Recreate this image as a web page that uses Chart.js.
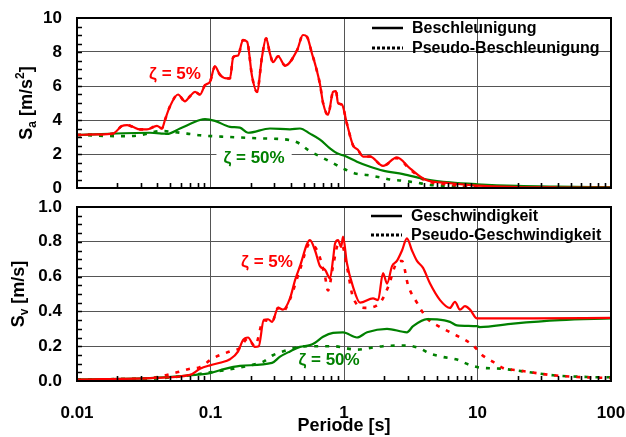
<!DOCTYPE html>
<html>
<head>
<meta charset="utf-8">
<script src="https://cdn.jsdelivr.net/npm/chart.js@4.4.1/dist/chart.umd.min.js"></script>
<style>
  html, body { margin: 0; padding: 0; background: #fff; }
  #wrap { position: relative; width: 626px; height: 437px; }
  canvas { position: absolute; left: 0; }
  #topChart { top: 0; }
  #bottomChart { top: 195px; }
</style>
</head>
<body>
<div id="wrap">
  <canvas id="topChart" width="626" height="195"></canvas>
  <canvas id="bottomChart" width="626" height="242"></canvas>
</div>
<script>
// ---------------------------------------------------------------
// Daten
// ---------------------------------------------------------------
const decadeTicks = [0.01, 0.1, 1, 10, 100];
const decadeLabels = ['0.01', '0.1', '1', '10', '100'];

// Sa, zeta = 5 % (Beschleunigung und Pseudo-Beschleunigung)
const saPeriods5 = [
  0.01, 0.0141, 0.0186, 0.0217, 0.0237, 0.0262, 0.0296, 0.0334, 0.0397, 0.0433,
  0.0456, 0.0497, 0.0571, 0.0644, 0.0702, 0.0766, 0.0834, 0.091, 0.0991, 0.108,
  0.118, 0.133, 0.14, 0.148, 0.161, 0.175, 0.188, 0.205, 0.223, 0.243,
  0.261, 0.279, 0.294, 0.321, 0.362, 0.445, 0.493, 0.528, 0.576, 0.607,
  0.661, 0.697, 0.759, 0.828, 0.871, 0.902, 0.966, 1.05, 1.17, 1.27,
  1.39, 1.57, 1.96, 2.49, 3.12, 4.04, 6.22, 9.91, 19.8, 39.4,
  100
];
const sa5 = [
  3.12, 3.15, 3.2, 3.65, 3.7, 3.6, 3.45, 3.45, 3.65, 3.5,
  4.0, 4.8, 5.5, 5.1, 5.4, 5.65, 5.5, 6.05, 6.25, 7.15,
  6.65, 6.45, 6.45, 7.7, 7.8, 8.7, 8.6, 6.55, 5.65, 7.7,
  8.8, 7.9, 7.4, 7.75, 7.2, 8.1, 9.0, 8.9, 7.9, 7.3,
  6.1, 5.0, 4.3, 5.65, 5.7, 5.0, 4.9, 3.8, 2.5, 2.25,
  1.85, 1.85, 1.3, 1.8, 1.15, 0.5, 0.28, 0.14, 0.06, 0.03,
  0.02
];
const saPseudo5 = [
  3.12, 3.15, 3.2, 3.65, 3.7, 3.6, 3.45, 3.45, 3.65, 3.5,
  4.0, 4.8, 5.5, 5.1, 5.4, 5.65, 5.5, 6.05, 6.25, 7.15,
  6.65, 6.45, 6.45, 7.7, 7.8, 8.7, 8.6, 6.55, 5.65, 7.7,
  8.8, 7.9, 7.4, 7.75, 7.2, 8.1, 9.0, 8.9, 7.9, 7.3,
  6.1, 5.0, 4.3, 5.65, 5.7, 5.0, 4.9, 3.8, 2.5, 2.25,
  1.85, 1.85, 1.3, 1.75, 1.1, 0.45, 0.2, 0.08, 0.02, 0.005,
  0.001
];

// Sa, zeta = 50 %
const saPeriods50 = [
  0.01, 0.0352, 0.0441, 0.0472, 0.0591, 0.0834, 0.091, 0.108, 0.14, 0.166,
  0.191, 0.279, 0.394, 0.468, 0.556, 0.661, 0.785, 0.887, 1.02, 1.25,
  1.57, 1.96, 2.77, 4.19, 6.22, 9.91, 19.8, 39.4, 100
];
const sa50 = [
  3.12, 3.25, 3.2, 3.18, 3.5, 4.0, 4.05, 3.95, 3.6, 3.55,
  3.25, 3.5, 3.45, 3.5, 3.2, 2.85, 2.33, 2.04, 1.88, 1.55,
  1.25, 1.02, 0.82, 0.5, 0.33, 0.22, 0.12, 0.08, 0.05
];
const saPseudoPeriods50 = [
  0.01, 0.021, 0.0296, 0.0419, 0.0667, 0.0834, 0.14, 0.235, 0.394, 0.468,
  0.537, 0.661, 0.813, 0.984, 1.21, 1.49, 1.86, 2.21, 2.77, 3.52,
  4.41, 6.22, 8.34, 100
];
const saPseudo50 = [
  3.12, 3.05, 3.1, 3.35, 3.2, 3.1, 3.0, 2.92, 2.82, 2.6,
  2.24, 1.85, 1.5, 1.15, 0.86, 0.76, 0.63, 0.5, 0.43, 0.31,
  0.18, 0.12, 0.04, 0.01
];

// Sv, zeta = 5 %
const svPeriods5 = [
  0.01, 0.0352, 0.0702, 0.0834, 0.0991, 0.118, 0.14, 0.161, 0.175, 0.191,
  0.215, 0.23, 0.25, 0.27, 0.289, 0.321, 0.349, 0.394, 0.43, 0.468,
  0.556, 0.607, 0.661, 0.721, 0.785, 0.828, 0.857, 0.902, 0.951, 0.984,
  1.05, 1.17, 1.32, 1.65, 1.8, 1.96, 2.1, 2.29, 2.49, 2.72,
  2.96, 3.23, 3.52, 3.91, 4.41, 5.24, 6.22, 6.78, 7.39, 8.06,
  8.79, 9.91, 26.1, 100
];
const sv5 = [
  0.008, 0.017, 0.035, 0.07, 0.09, 0.105, 0.125, 0.17, 0.235, 0.25,
  0.196, 0.2, 0.35, 0.355, 0.34, 0.42, 0.41, 0.475, 0.58, 0.66,
  0.81, 0.75, 0.66, 0.64, 0.59, 0.7, 0.79, 0.81, 0.77, 0.83,
  0.68, 0.54, 0.45, 0.475, 0.465, 0.62, 0.56, 0.66, 0.69, 0.75,
  0.82, 0.75, 0.69, 0.65, 0.56, 0.465, 0.42, 0.455, 0.41, 0.43,
  0.41, 0.36, 0.36, 0.363
];
const svPseudoPeriods5 = [
  0.01, 0.0352, 0.0561, 0.0702, 0.0834, 0.104, 0.14, 0.166, 0.191, 0.215,
  0.25, 0.289, 0.321, 0.349, 0.394, 0.468, 0.556, 0.638, 0.721, 0.759,
  0.828, 0.902, 0.966, 1.05, 1.17, 1.44, 1.86, 2.14, 2.49, 2.72,
  3.02, 3.52, 4.19, 5.24, 6.22, 9.25, 10.8, 13.1, 15.5, 19.8,
  36.8, 55.6, 100
];
const svPseudo5 = [
  0.008, 0.017, 0.05, 0.07, 0.08, 0.13, 0.17, 0.19, 0.245, 0.2,
  0.35, 0.34, 0.42, 0.4, 0.47, 0.64, 0.79, 0.74, 0.6, 0.52,
  0.66, 0.78, 0.78, 0.66, 0.48, 0.42, 0.45, 0.54, 0.68, 0.69,
  0.55, 0.45, 0.36, 0.31, 0.28, 0.205, 0.15, 0.11, 0.075, 0.062,
  0.033, 0.023, 0.017
];

// Sv, zeta = 50 %
const svPeriods50 = [
  0.01, 0.0352, 0.0702, 0.0991, 0.118, 0.166, 0.289, 0.332, 0.394, 0.468,
  0.556, 0.607, 0.697, 0.828, 0.984, 1.25, 1.49, 2.1, 2.96, 3.29,
  4.19, 4.98, 6.22, 7.02, 9.91, 10.4, 18.5, 41.5, 100
];
const sv50 = [
  0.01, 0.017, 0.033, 0.045, 0.062, 0.087, 0.104, 0.14, 0.17, 0.196,
  0.206, 0.22, 0.254, 0.277, 0.28, 0.25, 0.28, 0.3, 0.28, 0.315,
  0.356, 0.354, 0.34, 0.32, 0.315, 0.31, 0.33, 0.35, 0.36
];
const svPseudoPeriods50 = [
  0.01, 0.0352, 0.0702, 0.104, 0.148, 0.198, 0.247, 0.294, 0.374, 0.445,
  0.528, 0.828, 1.25, 1.57, 1.96, 2.96, 3.71, 4.41, 5.52, 7.02,
  8.49, 10.4, 14.8, 23.5, 36.8, 66.1, 100
];
const svPseudo50 = [
  0.01, 0.013, 0.033, 0.052, 0.07, 0.09, 0.11, 0.148, 0.177, 0.193,
  0.2, 0.2, 0.18, 0.19, 0.2, 0.204, 0.187, 0.158, 0.138, 0.123,
  0.096, 0.077, 0.071, 0.052, 0.033, 0.023, 0.021
];

// ---------------------------------------------------------------
// Stil
// ---------------------------------------------------------------
const RED = '#ff0000';
const GREEN = '#008000';
const FONT = '"Liberation Sans", Arial, Helvetica, sans-serif';

Chart.defaults.font.family = FONT;
Chart.defaults.color = '#000';

function line(periods, values, color, dotted) {
  return {
    data: periods.map((p, i) => ({ x: p, y: values[i] })),
    borderColor: color,
    borderWidth: dotted ? 2.6 : 2.2,
    borderDash: dotted ? [4, 7] : [],
    pointRadius: 0,
    fill: false,
    cubicInterpolationMode: 'monotone'
  };
}

// keine automatische Randzugabe der Achsen
function noPad(s) {
  s.paddingTop = 0;
  s.paddingBottom = 0;
  s.paddingLeft = 0;
  s.paddingRight = 0;
}

// Rahmen, Nebenstriche, Achsentitel, Legende, Beschriftungen
const decor = {
  id: 'decor',
  afterDatasetsDraw(chart, args, opts) {
    const { ctx, chartArea: a, scales: { x, y } } = chart;
    ctx.save();

    // Nebenstriche
    ctx.strokeStyle = '#000';
    ctx.lineWidth = 1.6;
    ctx.beginPath();
    decadeTicks.slice(0, -1).forEach(d => {
      for (let m = 2; m < 10; m++) {
        const px = Math.round(x.getPixelForValue(d * m)) + 0.5;
        ctx.moveTo(px, a.bottom);
        ctx.lineTo(px, a.bottom - 5);
      }
    });
    const n = Math.round((y.max - y.min) / opts.minorStep);
    for (let i = 1; i < n; i++) {
      const py = Math.round(y.getPixelForValue(y.min + i * opts.minorStep)) + 0.5;
      ctx.moveTo(a.left, py);
      ctx.lineTo(a.left + 5, py);
    }
    ctx.stroke();

    // Rahmen
    ctx.lineWidth = 2;
    ctx.strokeRect(a.left, a.top, a.right - a.left, a.bottom - a.top);

    // Beschriftungen zeta
    ctx.textAlign = 'center';
    ctx.textBaseline = 'middle';
    ctx.font = 'bold 17px ' + FONT;
    opts.notes.forEach(nt => {
      const px = x.getPixelForValue(nt.x);
      const py = y.getPixelForValue(nt.y);
      if (nt.bg) {
        const w = ctx.measureText(nt.text).width + 14;
        ctx.fillStyle = '#fff';
        ctx.fillRect(px - w / 2, py - 9, w, 18);
      }
      ctx.fillStyle = nt.color;
      ctx.fillText(nt.text, px, py + 1);
    });

    // Legende
    ctx.textAlign = 'left';
    ctx.font = 'bold 16px ' + FONT;
    opts.legend.forEach((item, i) => {
      const ly = opts.legendY + i * opts.legendGap;
      ctx.strokeStyle = '#000';
      ctx.lineWidth = item.dotted ? 3 : 2.5;
      ctx.setLineDash(item.dotted ? [3, 2] : []);
      ctx.beginPath();
      ctx.moveTo(opts.legendX, ly);
      ctx.lineTo(opts.legendX + 31, ly);
      ctx.stroke();
      ctx.setLineDash([]);
      ctx.fillStyle = '#000';
      ctx.fillText(item.text, opts.legendX + 40, ly + 1);
    });

    // y-Achsentitel mit Index
    const parts = opts.yTitle;
    const big = 'bold 18px ' + FONT, small = 'bold 12px ' + FONT;
    let total = 0;
    parts.forEach(p => { ctx.font = p.dy ? small : big; p.w = ctx.measureText(p.t).width; total += p.w; });
    ctx.translate(opts.yTitleX, (a.top + a.bottom) / 2);
    ctx.rotate(-Math.PI / 2);
    ctx.textBaseline = 'alphabetic';
    let cx = -total / 2;
    parts.forEach(p => {
      ctx.font = p.dy ? small : big;
      ctx.fillText(p.t, cx, 7 + (p.dy || 0));
      cx += p.w;
    });
    ctx.restore();
  }
};

function makeChart(id, datasets, cfg) {
  return new Chart(document.getElementById(id), {
    type: 'line',
    data: { datasets },
    plugins: [decor],
    options: {
      responsive: false,
      animation: false,
      devicePixelRatio: 1,
      layout: { autoPadding: false, padding: { left: 0, right: 15, top: cfg.top, bottom: 0 } },
      plugins: {
        legend: { display: false },
        tooltip: { enabled: false },
        decor: cfg.decor
      },
      scales: {
        x: {
          type: 'logarithmic',
          min: 0.01,
          max: 100,
          afterBuildTicks: s => { s.ticks = decadeTicks.map(v => ({ value: v })); },
          afterFit: s => { s.height = cfg.xHeight; noPad(s); },
          ticks: {
            display: cfg.showX,
            autoSkip: false,
            maxRotation: 0,
            padding: 22,
            font: { size: 17, weight: 'bold' },
            callback: (v, i) => decadeLabels[i]
          },
          grid: { color: '#555', lineWidth: 1, drawTicks: false },
          border: { display: false },
          title: {
            display: cfg.showX,
            text: 'Periode [s]',
            font: { size: 18, weight: 'bold' },
            padding: { top: 0, bottom: 0 }
          }
        },
        y: {
          min: cfg.yMin,
          max: cfg.yMax,
          afterFit: s => { s.width = 77; noPad(s); },
          ticks: {
            stepSize: cfg.yStep,
            padding: 15,
            font: { size: 17, weight: 'bold' },
            callback: cfg.yFormat
          },
          grid: { color: '#555', lineWidth: 1, drawTicks: false },
          border: { display: false }
        }
      }
    }
  });
}

makeChart('topChart', [
  line(saPeriods5, sa5, RED, false),
  line(saPeriods50, sa50, GREEN, false),
  line(saPeriods5, saPseudo5, RED, true),
  line(saPseudoPeriods50, saPseudo50, GREEN, true)
], {
  top: 18, xHeight: 7, showX: false,
  yMin: 0, yMax: 10, yStep: 2, yFormat: v => String(v),
  decor: {
    minorStep: 0.5,
    yTitleX: 25,
    yTitle: [{ t: 'S' }, { t: 'a', dy: 4 }, { t: ' [m/s' }, { t: '2', dy: -8 }, { t: ']' }],
    legendX: 372, legendY: 28, legendGap: 20,
    legend: [{ text: 'Beschleunigung' }, { text: 'Pseudo-Beschleunigung', dotted: true }],
    notes: [
      { text: 'ζ = 5%', color: RED, x: 0.0542, y: 6.76 },
      { text: 'ζ = 50%', color: GREEN, x: 0.212, y: 1.82, bg: true }
    ]
  }
});

makeChart('bottomChart', [
  line(svPeriods5, sv5, RED, false),
  line(svPeriods50, sv50, GREEN, false),
  line(svPseudoPeriods5, svPseudo5, RED, true),
  line(svPseudoPeriods50, svPseudo50, GREEN, true)
], {
  top: 12, xHeight: 56, showX: true,
  yMin: 0, yMax: 1, yStep: 0.2, yFormat: v => v.toFixed(1),
  decor: {
    minorStep: 0.05,
    yTitleX: 17,
    yTitle: [{ t: 'S' }, { t: 'v', dy: 4 }, { t: ' [m/s]' }],
    legendX: 371, legendY: 21, legendGap: 19,
    legend: [{ text: 'Geschwindigkeit' }, { text: 'Pseudo-Geschwindigkeit', dotted: true }],
    notes: [
      { text: 'ζ = 5%', color: RED, x: 0.265, y: 0.685 },
      { text: 'ζ = 50%', color: GREEN, x: 0.773, y: 0.125 }
    ]
  }
});
</script>
</body>
</html>
